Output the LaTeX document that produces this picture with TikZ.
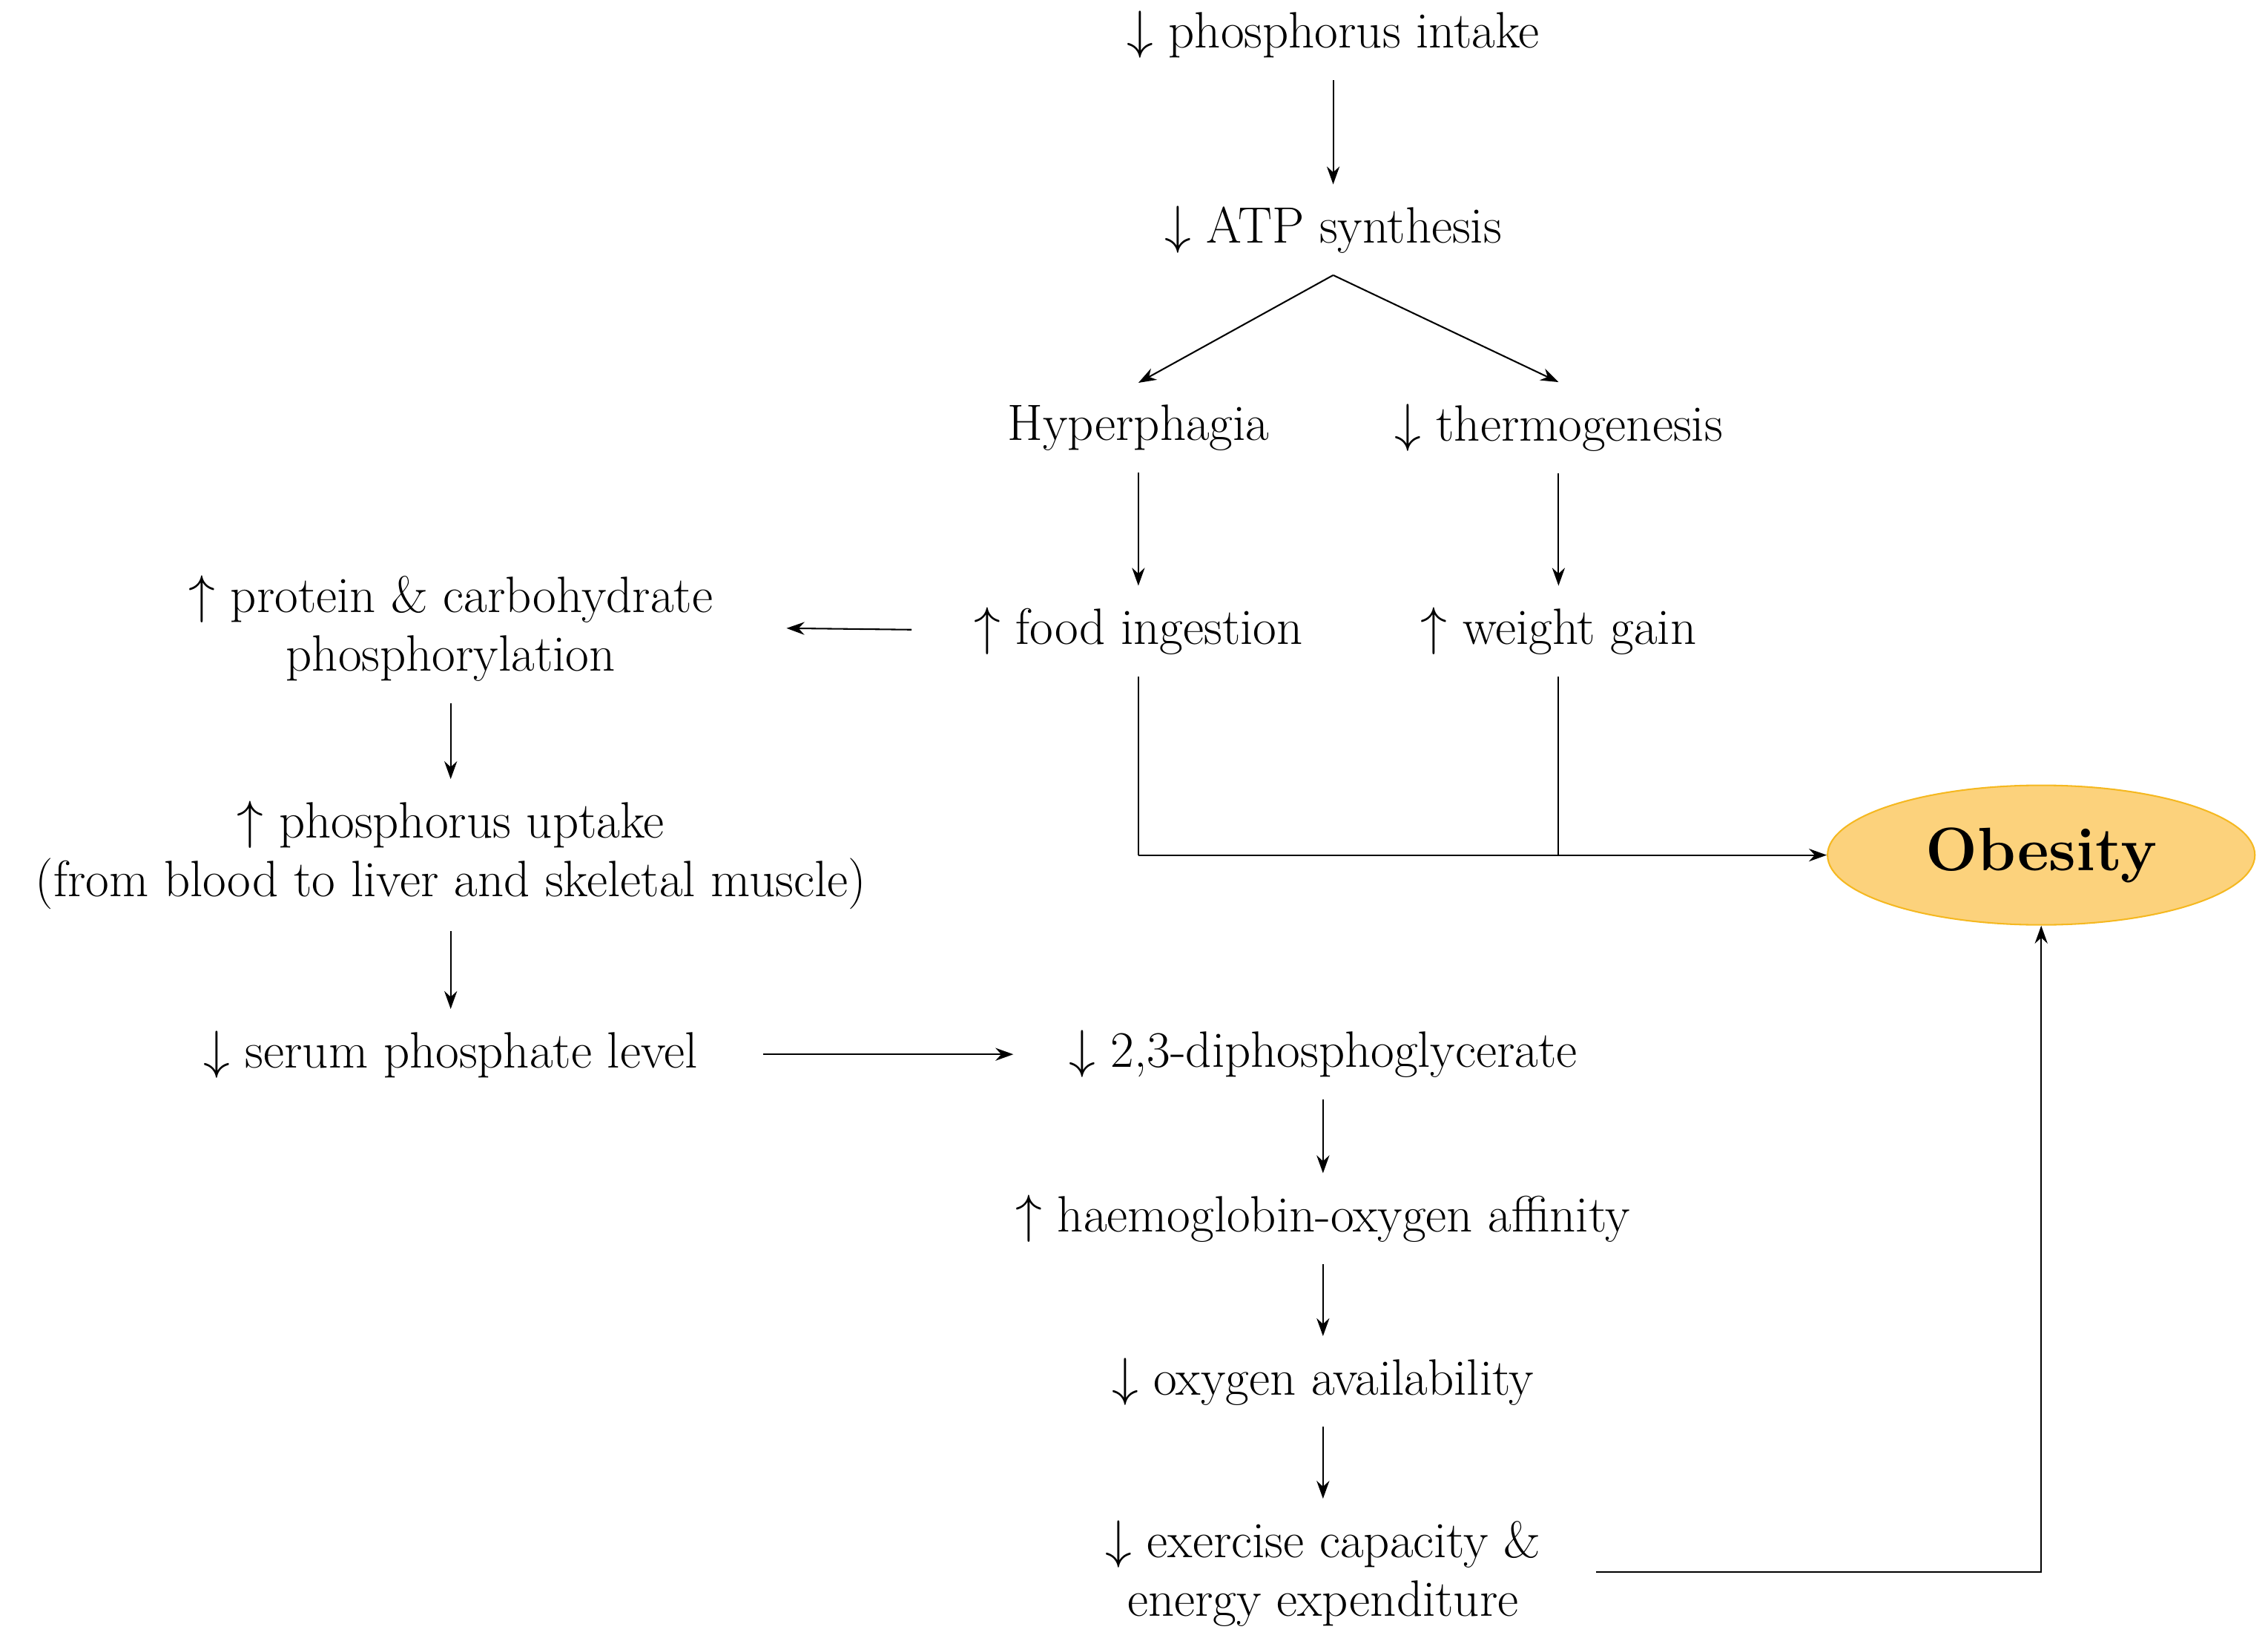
\documentclass[tikz,border=0pt]{standalone}
\usetikzlibrary{arrows.meta,shapes.geometric}
\definecolor{obf}{HTML}{FCD27C}
\definecolor{obd}{HTML}{F5B820}
\begin{document}
\begin{tikzpicture}[x=0.02cm,y=-0.02cm,
  t/.style={font=\fontsize{20}{23}\selectfont, align=center, inner sep=0pt, outer sep=0.3cm},
  arr/.style={-{Stealth[length=7pt,width=5pt]}, line width=0.6pt},
  ln/.style={line width=0.6pt}]
\useasboundingbox (0,0) rectangle (1560,1128);
\node[t] (pi) at (917,24) {$\downarrow$ phosphorus intake};
\node[t] (atp) at (917,158) {$\downarrow$ ATP synthesis};
\node[t] (hyp) at (783,294) {Hyperphagia};
\node[t] (th) at (1072,294) {$\downarrow$ thermogenesis};
\node[t] (fi) at (783,434) {$\uparrow$ food ingestion};
\node[t] (wg) at (1072,434) {$\uparrow$ weight gain};
\node[t] (pc) at (310,432) {$\uparrow$ protein \& carbohydrate\\phosphorylation};
\node[t] (pu) at (310,588) {$\uparrow$ phosphorus uptake\\(from blood to liver and skeletal muscle)};
\node[t] (sp) at (310,725) {$\downarrow$ serum phosphate level};
\node[t] (dpg) at (910,725) {$\downarrow$ 2,3-diphosphoglycerate};
\node[t] (hb) at (910,838) {$\uparrow$ haemoglobin-oxygen affinity};
\node[t] (ox) at (910,950) {$\downarrow$ oxygen availability};
\node[t] (ex) at (910,1082) {$\downarrow$ exercise capacity \&\\energy expenditure};
\node[ellipse, draw=obd, fill=obf, line width=0.6pt, minimum width=5.88cm, minimum height=1.92cm, font=\fontsize{24}{26}\selectfont\bfseries] (ob) at (1404,588) {Obesity};
\coordinate (j1) at (783,588);
\coordinate (j2) at (1072,588);
\coordinate (c1) at (1404,1081);
\coordinate (fa) at (627,433);
\coordinate (fb) at (541,432);
\coordinate (sa) at (525,725);
\coordinate (sb) at (697,725);
\coordinate (ea) at (1098,1081);
\draw[arr] (pi) -- (atp);
\draw[arr] (atp.south) -- (hyp.north);
\draw[arr] (atp.south) -- (th.north);
\draw[arr] (hyp) -- (fi);
\draw[arr] (th) -- (wg);
\draw[arr] (fa) -- (fb);
\draw[arr] (pc) -- (pu);
\draw[arr] (pu) -- (sp);
\draw[arr] (sa) -- (sb);
\draw[arr] (dpg) -- (hb);
\draw[arr] (hb) -- (ox);
\draw[arr] (ox) -- (ex);
\draw[ln] (fi.south) -- (j1);
\draw[ln] (wg.south) -- (j2);
\draw[arr] (j1) -- (ob.west);
\draw[arr] (ea) -- (c1) -- (ob.south);
\end{tikzpicture}
\end{document}
